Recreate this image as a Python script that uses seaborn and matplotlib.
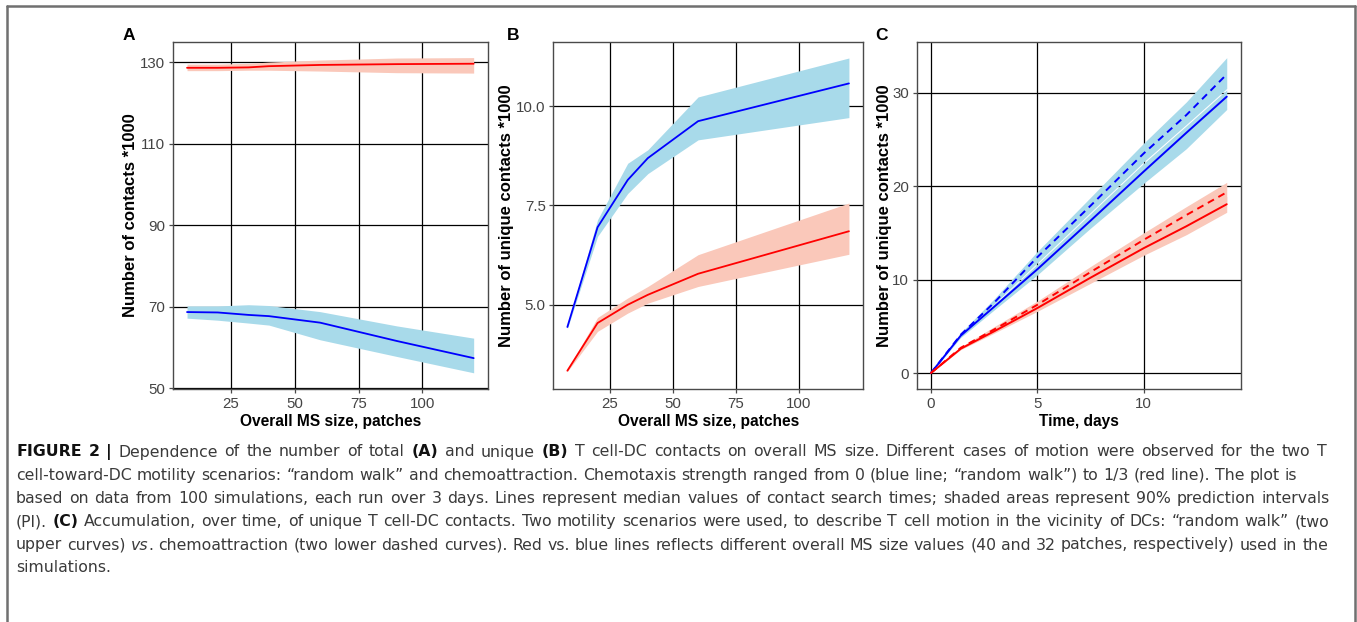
import matplotlib
matplotlib.use("Agg")
import matplotlib.pyplot as plt
import seaborn as sns
import pandas as pd
import numpy as np
from matplotlib.lines import Line2D

sns.set_style("white")
plt.rcParams['font.family'] = ['Liberation Sans', 'DejaVu Sans']

# ---------------- data ----------------
# Panel A: total contacts (*1000) vs overall MS size
size_A = [8, 20, 32, 40, 60, 90, 120]
A_blue_med = [68.7, 68.6, 68.0, 67.7, 66.1, 61.6, 57.4]
A_blue_lo = [67.2, 66.7, 66.0, 65.5, 61.9, 57.8, 53.8]
A_blue_hi = [70.2, 70.2, 70.5, 70.3, 68.8, 65.3, 62.3]
A_red_med = [128.6, 128.6, 128.7, 129.0, 129.3, 129.5, 129.6]
A_red_lo = [127.9, 127.9, 128.0, 128.0, 127.8, 127.4, 127.3]
A_red_hi = [129.5, 129.5, 129.7, 130.0, 130.5, 131.0, 131.1]

# Panel B: unique contacts (*1000) vs overall MS size
size_B = [8, 20, 32, 40, 60, 120]
B_blue_med = [4.44, 6.95, 8.14, 8.69, 9.62, 10.57]
B_blue_lo = [4.40, 6.72, 7.80, 8.30, 9.15, 9.71]
B_blue_hi = [4.48, 7.14, 8.56, 8.90, 10.23, 11.21]
B_red_med = [3.34, 4.54, 5.00, 5.25, 5.78, 6.85]
B_red_lo = [3.32, 4.33, 4.79, 5.04, 5.46, 6.27]
B_red_hi = [3.37, 4.68, 5.17, 5.46, 6.26, 7.56]

# Panel C: accumulation of unique contacts (*1000) over time
time_C = [0, 1.4, 3, 5, 7.5, 10, 12, 13.9]
C_blue_solid = [0, 4.0, 7.15, 11.1, 16.3, 21.56, 25.7, 29.57]
C_blue_solid_lo = [0, 3.8, 6.8, 10.5, 15.5, 20.3, 24.0, 28.2]
C_blue_solid_hi = [0, 4.05, 7.35, 11.65, 17.05, 22.45, 26.45, 30.3]
C_blue_dash = [0, 4.1, 7.6, 12.4, 17.9, 23.5, 27.6, 31.96]
C_blue_dash_lo = [0, 4.1, 7.45, 11.8, 17.2, 22.6, 26.6, 30.45]
C_blue_dash_hi = [0, 4.3, 8.0, 13.0, 18.8, 24.6, 29.0, 33.74]
C_red_solid = [0, 2.6, 4.5, 6.95, 10.2, 13.36, 15.7, 18.06]
C_red_solid_lo = [0, 2.5, 4.3, 6.6, 9.6, 12.6, 14.8, 17.2]
C_red_solid_hi = [0, 2.7, 4.7, 7.3, 10.7, 14.0, 16.5, 18.9]
C_red_dash = [0, 2.7, 4.7, 7.3, 10.8, 14.25, 16.9, 19.34]
C_red_dash_lo = [0, 2.6, 4.5, 7.0, 10.3, 13.6, 16.0, 18.3]
C_red_dash_hi = [0, 2.8, 5.0, 7.7, 11.4, 15.0, 17.8, 20.4]

xticks_AB = [25, 50, 75, 100]
yticks_A = [50, 70, 90, 110, 130]
yticks_B = [5.0, 7.5, 10.0]
yticks_B_labels = ["5.0", "7.5", "10.0"]
xticks_C = [0, 5, 10]
yticks_C = [0, 10, 20, 30]

xlabel_AB = "Overall MS size, patches"
xlabel_C = "Time, days"
ylabel_A = "Number of contacts *1000"
ylabel_BC = "Number of unique contacts *1000"

BLUE = "#0000FF"
RED = "#FF0000"
BLUE_F = "#A8DAEA"
RED_F = "#FAC8BA"

W, H = 1357, 622
fig = plt.figure(figsize=(W / 100, H / 100), dpi=100)
fig.patch.set_facecolor("white")


def px_axes(l, t, r, b):
    return fig.add_axes([l / W, 1 - b / H, (r - l) / W, (b - t) / H])


axA = px_axes(172.7, 41.7, 488, 389)
axB = px_axes(553.3, 41.7, 863, 389)
axC = px_axes(916.7, 41.7, 1241, 389)

# Panel A
axA.fill_between(size_A, A_red_lo, A_red_hi, color=RED_F, lw=0, zorder=2)
axA.fill_between(size_A, A_blue_lo, A_blue_hi, color=BLUE_F, lw=0, zorder=2)
dfA = pd.DataFrame({"x": size_A * 2, "y": A_blue_med + A_red_med,
                    "g": ["blue"] * len(size_A) + ["red"] * len(size_A)})
sns.lineplot(data=dfA, x="x", y="y", hue="g", palette={"blue": BLUE, "red": RED},
             ax=axA, legend=False, lw=1.3, zorder=4, estimator=None)

# Panel B
axB.fill_between(size_B, B_red_lo, B_red_hi, color=RED_F, lw=0, zorder=2)
axB.fill_between(size_B, B_blue_lo, B_blue_hi, color=BLUE_F, lw=0, zorder=2)
dfB = pd.DataFrame({"x": size_B * 2, "y": B_blue_med + B_red_med,
                    "g": ["blue"] * len(size_B) + ["red"] * len(size_B)})
sns.lineplot(data=dfB, x="x", y="y", hue="g", palette={"blue": BLUE, "red": RED},
             ax=axB, legend=False, lw=1.3, zorder=4, estimator=None)

# Panel C
axC.fill_between(time_C, C_blue_solid_lo, C_blue_solid_hi, color=BLUE_F, lw=0, zorder=2)
axC.fill_between(time_C, C_blue_dash_lo, C_blue_dash_hi, color=BLUE_F, lw=0, zorder=2)
axC.fill_between(time_C, C_red_solid_lo, C_red_solid_hi, color=RED_F, lw=0, zorder=2)
axC.fill_between(time_C, C_red_dash_lo, C_red_dash_hi, color=RED_F, lw=0, zorder=2)
n = len(time_C)
dfC = pd.DataFrame({
    "t": time_C * 4,
    "y": C_blue_solid + C_blue_dash + C_red_solid + C_red_dash,
    "col": ["blue"] * (2 * n) + ["red"] * (2 * n),
    "kind": (["solid"] * n + ["dash"] * n) * 2,
})
dfC["grp"] = dfC["col"] + "_" + dfC["kind"]
sns.lineplot(data=dfC, x="t", y="y", hue="col", style="kind",
             palette={"blue": BLUE, "red": RED},
             dashes={"solid": "", "dash": (3.6, 2.6)},
             units="grp", estimator=None,
             ax=axC, legend=False, lw=1.4, zorder=4)

# Axes styling
specs = [
    (axA, (2.4, 125.6), (49.83, 135.0), xticks_AB, yticks_A, None, xlabel_AB, ylabel_A, -0.133, "A", 123),
    (axB, (2.4, 125.6), (2.88, 11.62), xticks_AB, yticks_B, yticks_B_labels, xlabel_AB, ylabel_BC, -0.150, "B", 507),
    (axC, (-0.67, 14.57), (-1.71, 35.45), xticks_C, yticks_C, None, xlabel_C, ylabel_BC, -0.098, "C", 875),
]
for ax, xl, yl, xt, yt, ytl, xlab, ylab, ylx, letter, lx in specs:
    ax.set_xlim(*xl)
    ax.set_ylim(*yl)
    ax.set_xticks(xt)
    ax.set_yticks(yt)
    if ytl is not None:
        ax.set_yticklabels(ytl)
    ax.grid(True, color="black", lw=0.9, zorder=1)
    ax.set_axisbelow(True)
    for s in ax.spines.values():
        s.set_color("#4a4a4a")
        s.set_linewidth(1.0)
        s.set_visible(True)
    ax.tick_params(axis="both", which="major", direction="out", length=3.2, width=0.9,
                   color="#4a4a4a", labelcolor="#444444", labelsize=10.8, pad=2.2,
                   bottom=True, left=True)
    ax.set_xlabel(xlab, fontsize=11.2, fontweight="bold", color="black", va="center")
    ax.xaxis.set_label_coords(0.5, -0.094)
    ax.set_ylabel(ylab, fontsize=12.0, fontweight="bold", color="black", va="center")
    ax.yaxis.set_label_coords(ylx, 0.5)
    fig.text(lx / W, 1 - 35 / H, letter, fontsize=12.5, fontweight="bold",
             ha="left", va="center", color="black")

# Outer frame (top, left, right)
frame_kw = dict(color="#707070", lw=1.8, transform=fig.transFigure)
fig.add_artist(Line2D([7.3 / W, 1355.3 / W], [1 - 6.3 / H, 1 - 6.3 / H], **frame_kw))
fig.add_artist(Line2D([7.3 / W, 7.3 / W], [0, 1 - 6.3 / H], **frame_kw))
fig.add_artist(Line2D([1355.3 / W, 1355.3 / W], [0, 1 - 6.3 / H], **frame_kw))

# Caption
caption_lines = [
    [("FIGURE 2 |", "bold", "normal"), (" Dependence of the number of total ", "normal", "normal"),
     ("(A)", "bold", "normal"), (" and unique ", "normal", "normal"), ("(B)", "bold", "normal"),
     (" T cell-DC contacts on overall MS size. Different cases of motion were observed for the two T", "normal", "normal")],
    [("cell-toward-DC motility scenarios: \u201crandom walk\u201d and chemoattraction. Chemotaxis strength ranged from 0 (blue line; \u201crandom walk\u201d) to 1/3 (red line). The plot is", "normal", "normal")],
    [("based on data from 100 simulations, each run over 3 days. Lines represent median values of contact search times; shaded areas represent 90% prediction intervals", "normal", "normal")],
    [("(PI). ", "normal", "normal"), ("(C)", "bold", "normal"),
     (" Accumulation, over time, of unique T cell-DC contacts. Two motility scenarios were used, to describe T cell motion in the vicinity of DCs: \u201crandom walk\u201d (two", "normal", "normal")],
    [("upper curves) ", "normal", "normal"), ("vs", "normal", "italic"),
     (". chemoattraction (two lower dashed curves). Red vs. blue lines reflects different overall MS size values (40 and 32 patches, respectively) used in the", "normal", "normal")],
    [("simulations.", "normal", "normal")],
]
caption_y = [452, 475.5, 498.5, 521.7, 545, 567.5]
caption_right = [1327, 1297, 1330, 1329, 1328, None]
cap_x0 = 16.0
cap_fs = 11.3
cap_family = ["DejaVu Sans"]
renderer = fig.canvas.get_renderer()


def advance(txt, wt, st):
    p1 = fig.text(0, 0, "|" + txt + "|", fontsize=cap_fs, fontweight=wt, fontstyle=st, family=cap_family)
    p2 = fig.text(0, 0, "||", fontsize=cap_fs, fontweight=wt, fontstyle=st, family=cap_family)
    w = p1.get_window_extent(renderer).width - p2.get_window_extent(renderer).width
    p1.remove()
    p2.remove()
    return w


space_w = advance(" ", "normal", "normal")

for segs, yy, right in zip(caption_lines, caption_y, caption_right):
    words, cur = [], []
    for txt, wt, st in segs:
        for c in txt:
            if c == " ":
                if cur:
                    words.append(cur)
                    cur = []
            else:
                if cur and cur[-1][1] == wt and cur[-1][2] == st:
                    cur[-1] = (cur[-1][0] + c, wt, st)
                else:
                    cur.append((c, wt, st))
    if cur:
        words.append(cur)
    widths = [[advance(t, w_, s_) for t, w_, s_ in wd] for wd in words]
    total = sum(sum(ws) for ws in widths)
    if right is not None and len(words) > 1:
        gap = (right - cap_x0 - total) / (len(words) - 1)
    else:
        gap = space_w
    x = cap_x0
    for wd, ws in zip(words, widths):
        for (t, wt, st), w in zip(wd, ws):
            col = "#111111" if wt == "bold" else "#3a3a3a"
            fig.text(x / W, 1 - yy / H, t, fontsize=cap_fs, fontweight=wt, fontstyle=st,
                     family=cap_family, color=col, ha="left", va="center")
            x += w
        x += gap

fig.savefig("out.png", dpi=100, facecolor="white")
